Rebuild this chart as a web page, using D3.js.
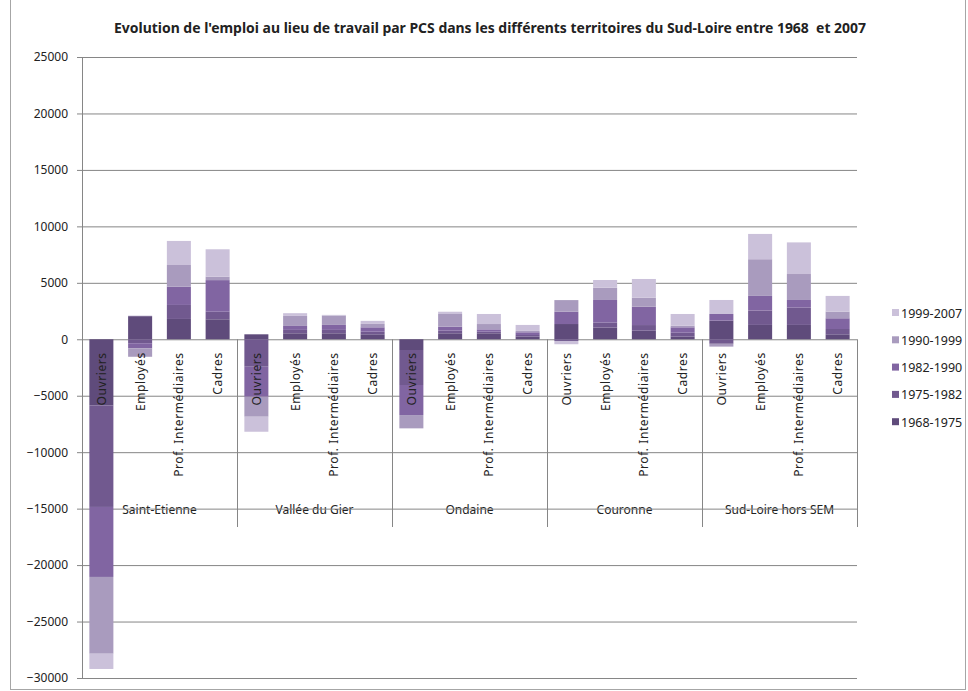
<!DOCTYPE html>
<html>
<head>
<meta charset="utf-8">
<script src="https://cdn.jsdelivr.net/npm/d3@7"></script>
<style>
  body { margin: 0; background: #fff; }
  svg text { font-family: "Noto Sans", "Open Sans", sans-serif; fill: #222; }
</style>
</head>
<body>
<div id="chart"></div>
<script>
// territoires et PCS
const groups = ["Saint-Etienne", "Vallée du Gier", "Ondaine", "Couronne", "Sud-Loire hors SEM"];
const pcs = ["Ouvriers", "Employés", "Prof. Intermédiaires", "Cadres"];
const periods = ["1968-1975", "1975-1982", "1982-1990", "1990-1999", "1999-2007"];
const colors = ["#5f4b7b", "#71598f", "#8165a2", "#a99bbe", "#cbc1da"];
const yTicks = [-30000, -25000, -20000, -15000, -10000, -5000, 0, 5000, 10000, 15000, 20000, 25000];

// valeurs par période, dans l'ordre territoire x PCS
const v6875 = [-5850, 2050, 1800, 1770,   440, 530, 530, 440,   -950, 530, 530, 230,   1350, 1030, 760, 230,   1650, 1270, 1270, 440];
const v7582 = [-9000, -350, 1240, 670,   -2430, 300, 300, 230,   -3100, 230, 140, 150,   -150, 440, 500, 350,   -400, 1270, 1530, 470];
const v8290 = [-6200, -450, 1620, 2800,   -2660, 350, 440, 390,   -2660, 350, 210, 240,   1090, 2010, 1620, 480,   590, 1300, 680, 950];
const v9099 = [-6800, -750, 1920, 300,   -1770, 890, 830, 300,   -1180, 1130, 470, 120,   1030, 1090, 800, 140,   -250, 3250, 2300, 590];
const v9907 = [-1350, 50, 2130, 2430,   -1330, 240, 60, 270,   0, 200, 890, 530,   -290, 680, 1660, 1040,   1240, 2240, 2800, 1390];
const seriesValues = [v6875, v7582, v8290, v9099, v9907];

const width = 968, height = 691;
const margin = {top: 57, left: 82, right: 111, bottom: 13};
const plotBottom = height - margin.bottom;

const rows = [];
groups.forEach((g, gi) => pcs.forEach((p, pi) => {
  const i = gi * pcs.length + pi;
  const r = {id: i, group: g, pcs: p};
  periods.forEach((s, si) => r[s] = seriesValues[si][i]);
  rows.push(r);
}));

const svg = d3.select("#chart").append("svg")
  .attr("width", width).attr("height", height);

// cadre du graphique
svg.append("rect")
  .attr("x", 10.5).attr("y", -5).attr("width", 955).attr("height", 694.5)
  .attr("fill", "none").attr("stroke", "#a6a6a6");

const y = d3.scaleLinear().domain([-30000, 25000]).range([plotBottom, margin.top]);
const x = d3.scaleBand().domain(rows.map(d => d.id))
  .range([margin.left, width - margin.right])
  .paddingInner(0.38).paddingOuter(0.19);
const gx = d3.scaleBand().domain(groups).range([margin.left, width - margin.right]);

svg.append("text")
  .attr("x", 490).attr("y", 33)
  .attr("text-anchor", "middle")
  .attr("font-size", 13.5).attr("font-weight", "bold")
  .attr("textLength", 752).attr("lengthAdjust", "spacingAndGlyphs")
  .style("white-space", "pre")
  .text("Evolution de l'emploi au lieu de travail par PCS dans les différents territoires du Sud-Loire entre 1968  et 2007");

// noms des territoires (sous la grille, comme dans l'original)
svg.append("g").selectAll("text").data(groups).enter().append("text")
  .attr("x", d => gx(d) + gx.bandwidth() / 2)
  .attr("y", 514)
  .attr("text-anchor", "middle")
  .attr("font-size", 12)
  .text(d => d);

// axe Y + grille
const yAxis = svg.append("g")
  .attr("transform", `translate(${margin.left},0)`)
  .call(d3.axisLeft(y).tickValues(yTicks).tickFormat(d3.format("d")).tickSize(5).tickSizeOuter(0).tickPadding(9));
yAxis.select(".domain").attr("stroke", "#868686");
yAxis.selectAll(".tick line").attr("stroke", "#868686");
yAxis.selectAll(".tick text").attr("font-size", 12).attr("fill", "#222")
  .style("font-family", "'Noto Sans', sans-serif");

svg.append("g").selectAll("line").data(yTicks).enter().append("line")
  .attr("x1", margin.left).attr("x2", width - margin.right)
  .attr("y1", d => y(d) + 0.5).attr("y2", d => y(d) + 0.5)
  .attr("stroke", "#868686");

// séparateurs de territoires
svg.append("g").selectAll("line").data(groups).enter().append("line")
  .attr("x1", d => gx(d) + gx.bandwidth() + 0.5).attr("x2", d => gx(d) + gx.bandwidth() + 0.5)
  .attr("y1", y(0)).attr("y2", 527)
  .attr("stroke", "#868686");

// barres empilées
const stack = d3.stack().keys(periods).offset(d3.stackOffsetDiverging);
const layers = stack(rows);
svg.append("g").selectAll("g").data(layers).enter().append("g")
  .attr("fill", (d, i) => colors[i])
  .selectAll("rect").data(d => d).enter().append("rect")
  .attr("x", d => x(d.data.id))
  .attr("width", x.bandwidth())
  .attr("y", d => y(Math.max(d[0], d[1])))
  .attr("height", d => Math.abs(y(d[0]) - y(d[1])));

// libellés PCS verticaux
svg.append("g").selectAll("text").data(rows).enter().append("text")
  .attr("transform", d => `translate(${x(d.id) + x.bandwidth() / 2},${y(0) + 13}) rotate(-90)`)
  .attr("text-anchor", "end")
  .attr("dominant-baseline", "central")
  .attr("font-size", 12)
  .attr("letter-spacing", 0.6)
  .text(d => d.pcs);

// légende
const legend = svg.append("g").selectAll("g").data(periods.slice().reverse()).enter().append("g")
  .attr("transform", (d, i) => `translate(892,${313 + i * 27.3})`);
legend.append("rect")
  .attr("x", 0).attr("y", -4).attr("width", 7).attr("height", 7)
  .attr("fill", d => colors[periods.indexOf(d)]);
legend.append("text")
  .attr("x", 9).attr("y", 0)
  .attr("dominant-baseline", "central")
  .attr("font-size", 12.5)
  .text(d => d);
</script>
</body>
</html>
